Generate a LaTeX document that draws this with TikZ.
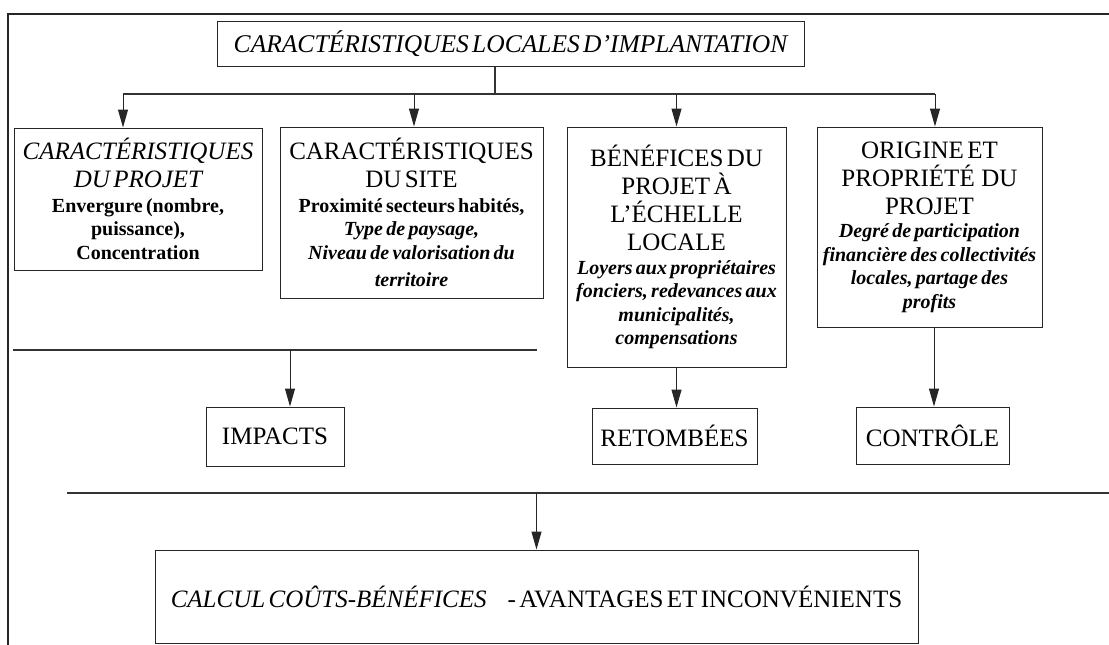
\documentclass[tikz,border=0pt]{standalone}
\usepackage{fontspec}
\setmainfont{Liberation Serif}
\usetikzlibrary{arrows.meta}
\newcommand\TitleFnt{\fontsize{25}{28}\selectfont}
\newcommand\BodyFnt{\fontsize{20}{23.5}\selectfont\bfseries}
\begin{document}
\begin{tikzpicture}[x=1pt,y=-1pt,
  bx/.style={draw=black!85, line width=1pt, inner sep=0pt, align=center},
  arr/.style={draw=black!85, line width=1pt, -{Triangle[length=18pt,width=10pt]}},
  ln/.style={draw=black!80, line width=1.2pt}]
\useasboundingbox (0,0) rectangle (1109,645);
\draw[line width=1.6pt, black!85] (8,645) -- (8,14) -- (1109,14);
% boxes
\node[bx, minimum width=587pt, minimum height=45pt, text width=580pt] (top) at (510.5,43.5)
  {\fontsize{25.5}{28}\selectfont\itshape CARACTÉRISTIQUES LOCALES D’IMPLANTATION\par};
\node[bx, minimum width=248pt, minimum height=142pt, text width=244pt] (b1) at (138,199)
  {{\TitleFnt\itshape CARACTÉRISTIQUES\\DU PROJET\\[1pt]}\BodyFnt Envergure (nombre,\\puissance),\\Concentration\par};
\node[bx, minimum width=263pt, minimum height=171pt, text width=259pt] (b2) at (411.5,212.5)
  {{\TitleFnt CARACTÉRISTIQUES\\DU SITE\\[1pt]}\BodyFnt Proximité secteurs habités,\\\itshape Type de paysage,\\Niveau de valorisation du\\[4pt]territoire\par};
\node[bx, minimum width=219pt, minimum height=240pt, text width=215pt] (b3) at (676.5,247)
  {{\TitleFnt BÉNÉFICES DU\\PROJET À\\L’ÉCHELLE\\LOCALE\\}\BodyFnt\itshape Loyers aux propriétaires\\fonciers, redevances aux\\municipalités,\\compensations\par};
\node[bx, minimum width=225pt, minimum height=200pt, text width=223pt] (b4) at (929.5,227)
  {{\TitleFnt ORIGINE ET\\PROPRIÉTÉ\ \ DU\\PROJET\\}\BodyFnt\itshape Degré de participation\\financière des collectivités\\locales, partage des\\profits\par};
\node[bx, minimum width=138pt, minimum height=59pt, text width=134pt] (impacts) at (275,436.5)
  {\TitleFnt IMPACTS\par};
\node[bx, minimum width=165pt, minimum height=56pt, text width=161pt] (retombees) at (674.5,436)
  {\TitleFnt RETOMBÉES\par};
\node[bx, minimum width=153pt, minimum height=57pt, text width=149pt] (controle) at (932.5,435.5)
  {\TitleFnt CONTRÔLE\par};
\node[bx, minimum width=763pt, minimum height=93pt, text width=755pt] (calcul) at (536.5,596.5)
  {\fontsize{25}{28}\selectfont {\itshape CALCUL COÛTS-BÉNÉFICES}\hspace{21pt}- AVANTAGES ET INCONVÉNIENTS\par};
% connectors from the top box
\coordinate (j) at (495,94);
\coordinate (t1) at ([xshift=-15pt]b1.north);
\coordinate (t2) at ([xshift=2.5pt]b2.north);
\coordinate (t3) at (b3.north);
\coordinate (t4) at ([xshift=5.5pt]b4.north);
\draw[ln] (j |- top.south) -- (j);
\draw[ln] (t1 |- j) -- (t4 |- j);
\foreach \t in {t1,t2,t3,t4} \draw[arr] (\t |- j) -- (\t);
% middle level
\coordinate (s1a) at (13,350);
\coordinate (s1b) at (537,350);
\draw[ln] (s1a) -- (s1b);
\coordinate (ti) at ([xshift=15pt]impacts.north);
\draw[arr] (ti |- s1a) -- (ti);
\draw[arr] (b3.south) -- (b3.south |- retombees.north);
\coordinate (tc) at ([xshift=4.5pt]b4.south);
\draw[arr] (tc) -- (tc |- controle.north);
% bottom level
\coordinate (s2a) at (67,493);
\coordinate (s2b) at (1109,493);
\draw[ln] (s2a) -- (s2b);
\draw[arr] (calcul.north |- s2a) -- (calcul.north);
\end{tikzpicture}
\end{document}
